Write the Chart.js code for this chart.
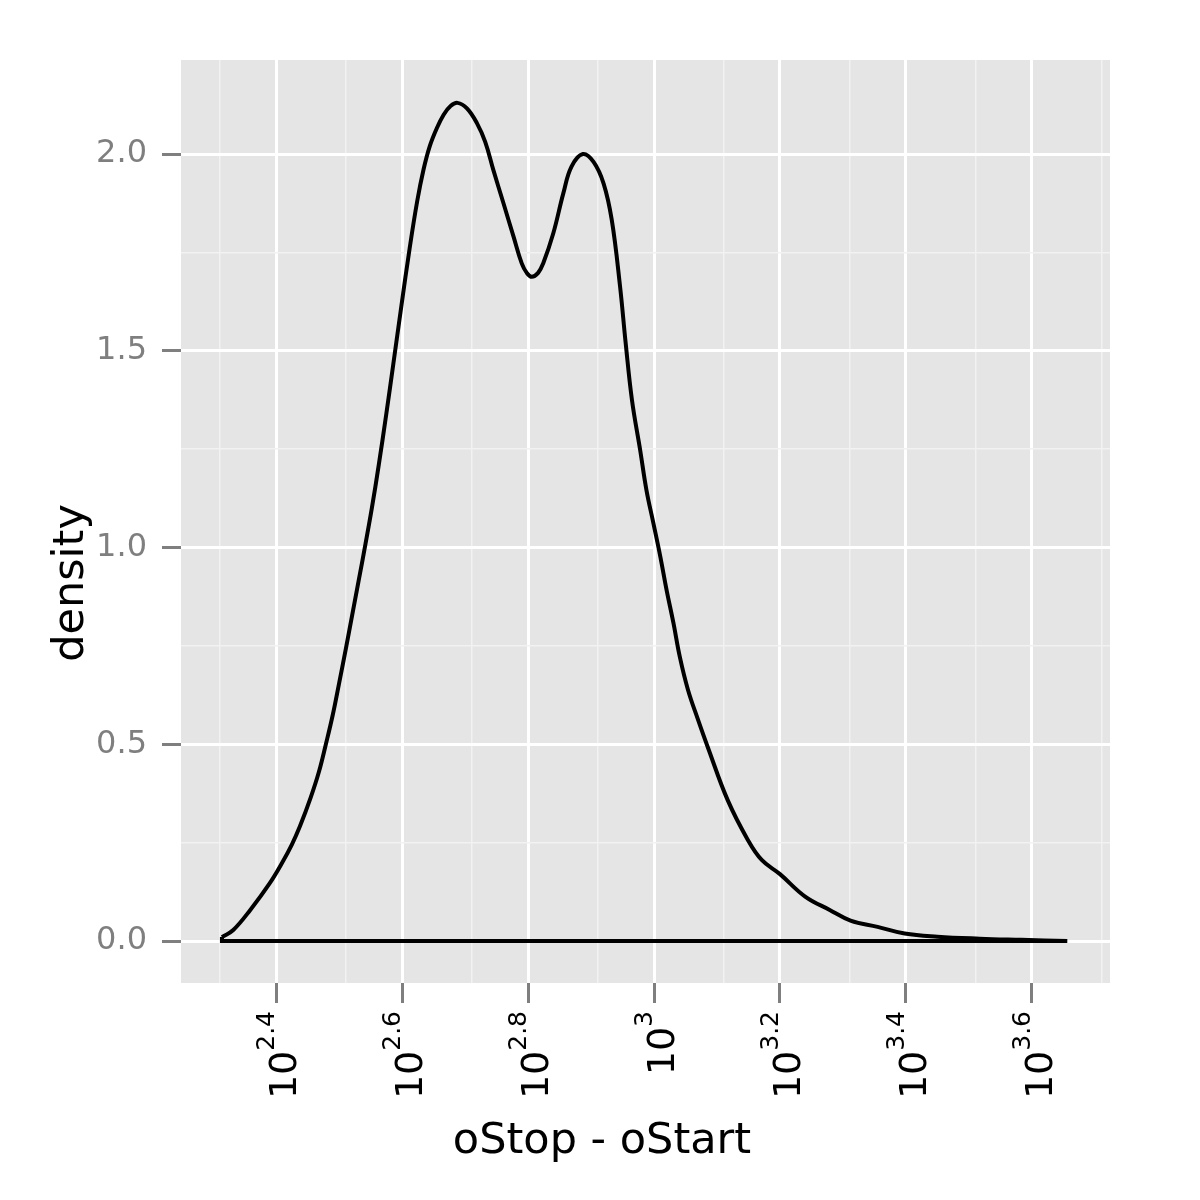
<!DOCTYPE html>
<html lang="en">
<head>
  <meta charset="UTF-8">
  <title>density of oStop - oStart</title>
  <script src="https://cdn.jsdelivr.net/npm/chart.js"></script>
  <style>
    body {
      margin: 0;
      padding: 0;
      background: #ffffff;
    }
    #box {
      width: 1200px;
      height: 1200px;
    }
  </style>
</head>
<body>
<div id="box">
  <canvas id="densityChart" width="1200" height="1200"></canvas>
</div>

<script>
  const logX = [
    2.314, 2.332, 2.359, 2.390, 2.410, 2.425, 2.438, 2.455, 2.468, 2.479,
    2.490, 2.500, 2.511, 2.521, 2.531, 2.542, 2.552, 2.563, 2.575, 2.586,
    2.599, 2.612, 2.624, 2.634, 2.644, 2.655, 2.666, 2.677, 2.688, 2.703,
    2.719, 2.732, 2.745, 2.761, 2.777, 2.790, 2.798, 2.806, 2.816, 2.824,
    2.840, 2.856, 2.869, 2.887, 2.904, 2.920, 2.933, 2.946, 2.955, 2.965,
    2.978, 2.988, 2.999, 3.010, 3.020, 3.031, 3.041, 3.054, 3.070, 3.086,
    3.117, 3.149, 3.171, 3.200, 3.240, 3.279, 3.312, 3.355, 3.398, 3.450,
    3.517, 3.583, 3.656
  ];
  const density = [
    0.010, 0.028, 0.079, 0.147, 0.200, 0.245, 0.292, 0.365, 0.430, 0.500,
    0.575, 0.655, 0.745, 0.830, 0.915, 1.010, 1.100, 1.210, 1.340, 1.465,
    1.615, 1.760, 1.880, 1.960, 2.020, 2.065, 2.100, 2.122, 2.130, 2.116,
    2.078, 2.031, 1.959, 1.875, 1.790, 1.722, 1.698, 1.688, 1.698, 1.722,
    1.798, 1.900, 1.968, 2.000, 1.980, 1.925, 1.832, 1.665, 1.520, 1.375,
    1.248, 1.146, 1.062, 0.977, 0.892, 0.807, 0.722, 0.638, 0.562, 0.490,
    0.358, 0.257, 0.206, 0.170, 0.113, 0.079, 0.052, 0.036, 0.019, 0.011,
    0.006, 0.003, 0.000
  ];

  // axis breaks
  const xMajorTicks = [2.4, 2.6, 2.8, 3.0, 3.2, 3.4, 3.6];
  const xTickExponents = ["2.4", "2.6", "2.8", "3", "3.2", "3.4", "3.6"];
  // minor breaks sit halfway between majors in raw units, so off-centre in log space
  const xMinorTicks = [2.311, 2.511, 2.711, 2.911, 3.111, 3.311, 3.511, 3.711];
  const yMajorTicks = [0.0, 0.5, 1.0, 1.5, 2.0];
  const yMinorTicks = [0.25, 0.75, 1.25, 1.75];

  const xTitle = "oStop - oStart";
  const yTitle = "density";

  const isIn = (list, v) => list.some(t => Math.abs(t - v) < 1e-6);

  const curve = logX.map((v, i) => ({ x: v, y: density[i] }));
  // ggplot closes the density outline along the bottom
  const base = [
    { x: logX[0], y: density[0] },
    { x: logX[0], y: 0 },
    { x: logX[logX.length - 1], y: 0 }
  ];

  const panelBg = {
    id: "panelBg",
    beforeDraw(chart) {
      const { ctx, chartArea: a } = chart;
      ctx.save();
      ctx.fillStyle = "#e5e5e5";
      ctx.fillRect(a.left, a.top, a.right - a.left, a.bottom - a.top);
      ctx.restore();
    }
  };

  const ggLabels = {
    id: "ggLabels",
    afterDraw(chart) {
      const ctx = chart.ctx;
      const xs = chart.scales.x;
      ctx.save();
      ctx.fillStyle = "#000000";
      ctx.textBaseline = "alphabetic";
      // x tick labels: 10 with superscript, turned 90 degrees
      xMajorTicks.forEach((v, i) => {
        const px = xs.getPixelForValue(v);
        ctx.save();
        ctx.translate(px, 1011);
        ctx.rotate(-Math.PI / 2);
        ctx.font = "25px 'DejaVu Sans'";
        const we = ctx.measureText(xTickExponents[i]).width;
        ctx.textAlign = "right";
        ctx.fillText(xTickExponents[i], 0, -2);
        ctx.font = "38px 'DejaVu Sans'";
        ctx.fillText("10", -we, 20);
        ctx.restore();
      });
      // axis titles
      ctx.font = "43px 'DejaVu Sans'";
      ctx.textAlign = "center";
      ctx.fillText(xTitle, 602, 1153);
      ctx.save();
      ctx.translate(83, 583);
      ctx.rotate(-Math.PI / 2);
      ctx.fillText(yTitle, 0, 0);
      ctx.restore();
      ctx.restore();
    }
  };

  const ctx = document.getElementById("densityChart").getContext("2d");
  new Chart(ctx, {
    type: "line",
    data: {
      datasets: [{
        data: curve,
        borderColor: "#000000",
        borderWidth: 4,
        borderJoinStyle: "round",
        pointRadius: 0,
        fill: false,
        tension: 0.4
      }, {
        data: base,
        borderColor: "#000000",
        borderWidth: 4,
        pointRadius: 0,
        fill: false,
        tension: 0
      }]
    },
    options: {
      responsive: false,
      animation: false,
      layout: { padding: { left: 0, top: 60, right: 90, bottom: 0 } },
      plugins: {
        legend: { display: false },
        tooltip: { enabled: false }
      },
      scales: {
        x: {
          type: "linear",
          min: 2.249,
          max: 3.724,
          afterBuildTicks(scale) {
            scale.ticks = xMajorTicks.concat(xMinorTicks).sort((a, b) => a - b).map(v => ({ value: v }));
          },
          afterFit(scale) { scale.height = 217; },
          border: { display: false },
          grid: {
            color: c => isIn(xMajorTicks, c.tick.value) ? "#ffffff" : "#f2f2f2",
            lineWidth: c => isIn(xMajorTicks, c.tick.value) ? 3 : 1.5,
            tickColor: c => isIn(xMajorTicks, c.tick.value) ? "#7f7f7f" : "rgba(0,0,0,0)",
            tickWidth: 3,
            tickLength: 20
          },
          ticks: { display: false }
        },
        y: {
          min: -0.1067,
          max: 2.239,
          afterBuildTicks(scale) {
            scale.ticks = yMajorTicks.concat(yMinorTicks).sort((a, b) => a - b).map(v => ({ value: v }));
          },
          afterFit(scale) { scale.width = 181; },
          border: { display: false },
          grid: {
            color: c => isIn(yMajorTicks, c.tick.value) ? "#ffffff" : "#f2f2f2",
            lineWidth: c => isIn(yMajorTicks, c.tick.value) ? 3 : 1.5,
            tickColor: c => isIn(yMajorTicks, c.tick.value) ? "#7f7f7f" : "rgba(0,0,0,0)",
            tickWidth: 3,
            tickLength: 19
          },
          ticks: {
            padding: 15,
            color: "#7f7f7f",
            font: { family: "DejaVu Sans", size: 32 },
            callback: v => isIn(yMajorTicks, v) ? v.toFixed(1) : ""
          }
        }
      }
    },
    plugins: [panelBg, ggLabels]
  });
</script>
</body>
</html>
